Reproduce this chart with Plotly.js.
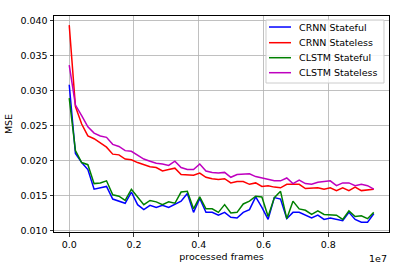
<!DOCTYPE html>
<html>
<head>
<meta charset="utf-8">
<script src="https://cdn.plot.ly/plotly-3.0.1.min.js"></script>
<style>
html,body{margin:0;padding:0;background:#fff;}
#chart{width:405px;height:268px;}
</style>
</head>
<body>
<div id="chart"></div>
<script>
var frames = [0, 192000, 384000, 576000, 768000, 960000, 1152000, 1344000, 1536000, 1728000,
  1920000, 2112000, 2304000, 2496000, 2688000, 2880000, 3072000, 3264000, 3456000, 3648000,
  3840000, 4032000, 4224000, 4416000, 4608000, 4800000, 4992000, 5184000, 5376000, 5568000,
  5760000, 5952000, 6144000, 6336000, 6528000, 6720000, 6912000, 7104000, 7296000, 7488000,
  7680000, 7872000, 8064000, 8256000, 8448000, 8640000, 8832000, 9024000, 9216000, 9408000];

var crnnStateful = [0.0308, 0.0210, 0.0197, 0.0187, 0.0159, 0.0161, 0.0163, 0.0145, 0.0142, 0.0139,
  0.0155, 0.0137, 0.0130, 0.0136, 0.0133, 0.0136, 0.0133, 0.0138, 0.0142, 0.0153,
  0.0126, 0.0146, 0.0126, 0.0126, 0.0122, 0.0126, 0.0119, 0.0118, 0.0126, 0.0130,
  0.0148, 0.0133, 0.0116, 0.0147, 0.0145, 0.0117, 0.0126, 0.0126, 0.0122, 0.0118,
  0.0122, 0.0116, 0.0118, 0.0116, 0.0114, 0.0126, 0.0116, 0.0112, 0.0112, 0.0124];

var crnnStateless = [0.0393, 0.0277, 0.0252, 0.0235, 0.0231, 0.0225, 0.0219, 0.0209, 0.0208, 0.0202,
  0.0201, 0.0197, 0.0194, 0.0191, 0.0190, 0.0185, 0.0187, 0.0189, 0.0180, 0.0179,
  0.0179, 0.0182, 0.0176, 0.0174, 0.0173, 0.0174, 0.0168, 0.0170, 0.0170, 0.0166,
  0.0168, 0.0163, 0.0164, 0.0162, 0.0161, 0.0166, 0.0166, 0.0166, 0.0160, 0.0160,
  0.0161, 0.0159, 0.0161, 0.0157, 0.0161, 0.0157, 0.0162, 0.0157, 0.0158, 0.0159];

var clstmStateful = [0.0289, 0.0214, 0.0197, 0.0194, 0.0167, 0.0168, 0.0171, 0.0151, 0.0149, 0.0143,
  0.0159, 0.0148, 0.0137, 0.0143, 0.0141, 0.0137, 0.0141, 0.0139, 0.0155, 0.0156,
  0.0131, 0.0148, 0.0131, 0.0131, 0.0126, 0.0137, 0.0125, 0.0126, 0.0138, 0.0142,
  0.0149, 0.0148, 0.0120, 0.0147, 0.0156, 0.0117, 0.0142, 0.0131, 0.0129, 0.0123,
  0.0128, 0.0123, 0.0122, 0.0122, 0.0116, 0.0128, 0.0120, 0.0121, 0.0117, 0.0126];

var clstmStateless = [0.0336, 0.0279, 0.0264, 0.0248, 0.0239, 0.0235, 0.0233, 0.0223, 0.0220, 0.0214,
  0.0213, 0.0207, 0.0202, 0.0199, 0.0196, 0.0195, 0.0193, 0.0199, 0.0190, 0.0187,
  0.0187, 0.0195, 0.0185, 0.0183, 0.0182, 0.0183, 0.0176, 0.0180, 0.0180, 0.0181,
  0.0177, 0.0175, 0.0172, 0.0171, 0.0171, 0.0175, 0.0167, 0.0172, 0.0167, 0.0166,
  0.0169, 0.0170, 0.0171, 0.0164, 0.0168, 0.0168, 0.0164, 0.0166, 0.0164, 0.0159];

var seriesNames = ["CRNN Stateful", "CRNN Stateless", "CLSTM Stateful", "CLSTM Stateless"];
var seriesColors = ["#0000ff", "#ff0000", "#008000", "#bf00bf"];
var seriesData = [crnnStateful, crnnStateless, clstmStateful, clstmStateless];

var xTickVals = [0, 2000000, 4000000, 6000000, 8000000];
var xTickText = ["0.0", "0.2", "0.4", "0.6", "0.8"];
var yTickVals = [0.010, 0.015, 0.020, 0.025, 0.030, 0.035, 0.040];

var font = "DejaVu Sans, sans-serif";

var traces = seriesData.map(function (d, k) {
  return {
    x: frames, y: d, type: "scatter", mode: "lines",
    name: seriesNames[k],
    line: {color: seriesColors[k], width: 1.5}
  };
});

// Legend box drawn in paper coordinates (matplotlib-style compact legend)
var legBox = {x0: 0.6328, x1: 0.985, y0: 0.6898, y1: 0.9815};
var legRows = [0.949, 0.8764, 0.8069, 0.7375];
var legLineX = [0.6418, 0.7075];
var legTextX = 0.7254;

var shapes = [{
  type: "rect", xref: "paper", yref: "paper", layer: "above",
  x0: legBox.x0, x1: legBox.x1, y0: legBox.y0, y1: legBox.y1,
  fillcolor: "rgba(255,255,255,0.8)", line: {color: "#cccccc", width: 1}
}];
var annotations = [];
seriesNames.forEach(function (n, k) {
  shapes.push({
    type: "line", xref: "paper", yref: "paper", layer: "above",
    x0: legLineX[0], x1: legLineX[1], y0: legRows[k], y1: legRows[k],
    line: {color: seriesColors[k], width: 1.5}
  });
  annotations.push({
    text: n, xref: "paper", yref: "paper", x: legTextX, y: legRows[k],
    xanchor: "left", yanchor: "middle", showarrow: false,
    font: {family: font, size: 9.5, color: "#000"}
  });
});
annotations.push({
  text: "1e7", xref: "paper", yref: "paper", x: 1.0, y: -0.09,
  xanchor: "right", yanchor: "top", showarrow: false,
  font: {family: font, size: 9.5, color: "#000"}
});

var layout = {
  width: 405, height: 268,
  margin: {l: 54, r: 16, t: 16, b: 36, pad: 0},
  paper_bgcolor: "#ffffff", plot_bgcolor: "#ffffff",
  font: {family: font, size: 9.5, color: "#000"},
  showlegend: false,
  xaxis: {
    range: [-470400, 9878400],
    tickvals: xTickVals, ticktext: xTickText,
    showgrid: true, gridcolor: "#b0b0b0", gridwidth: 0.8,
    zeroline: false,
    showline: true, linecolor: "#000", linewidth: 1, mirror: true,
    ticks: "outside", ticklen: 3.5, tickwidth: 0.8, tickcolor: "#000",
    tickfont: {family: font, size: 9.5, color: "#000"},
    title: {text: "processed frames", font: {family: font, size: 9.5, color: "#000"}, standoff: 4}
  },
  yaxis: {
    range: [0.0098, 0.0406],
    tickvals: yTickVals, tickformat: ".3f",
    showgrid: true, gridcolor: "#b0b0b0", gridwidth: 0.8,
    zeroline: false,
    showline: true, linecolor: "#000", linewidth: 1, mirror: true,
    ticks: "outside", ticklen: 3.5, tickwidth: 0.8, tickcolor: "#000",
    tickfont: {family: font, size: 9.5, color: "#000"},
    title: {text: "MSE", font: {family: font, size: 9.5, color: "#000"}, standoff: 6}
  },
  shapes: shapes,
  annotations: annotations
};

Plotly.newPlot("chart", traces, layout, {displayModeBar: false, staticPlot: true});
</script>
</body>
</html>
